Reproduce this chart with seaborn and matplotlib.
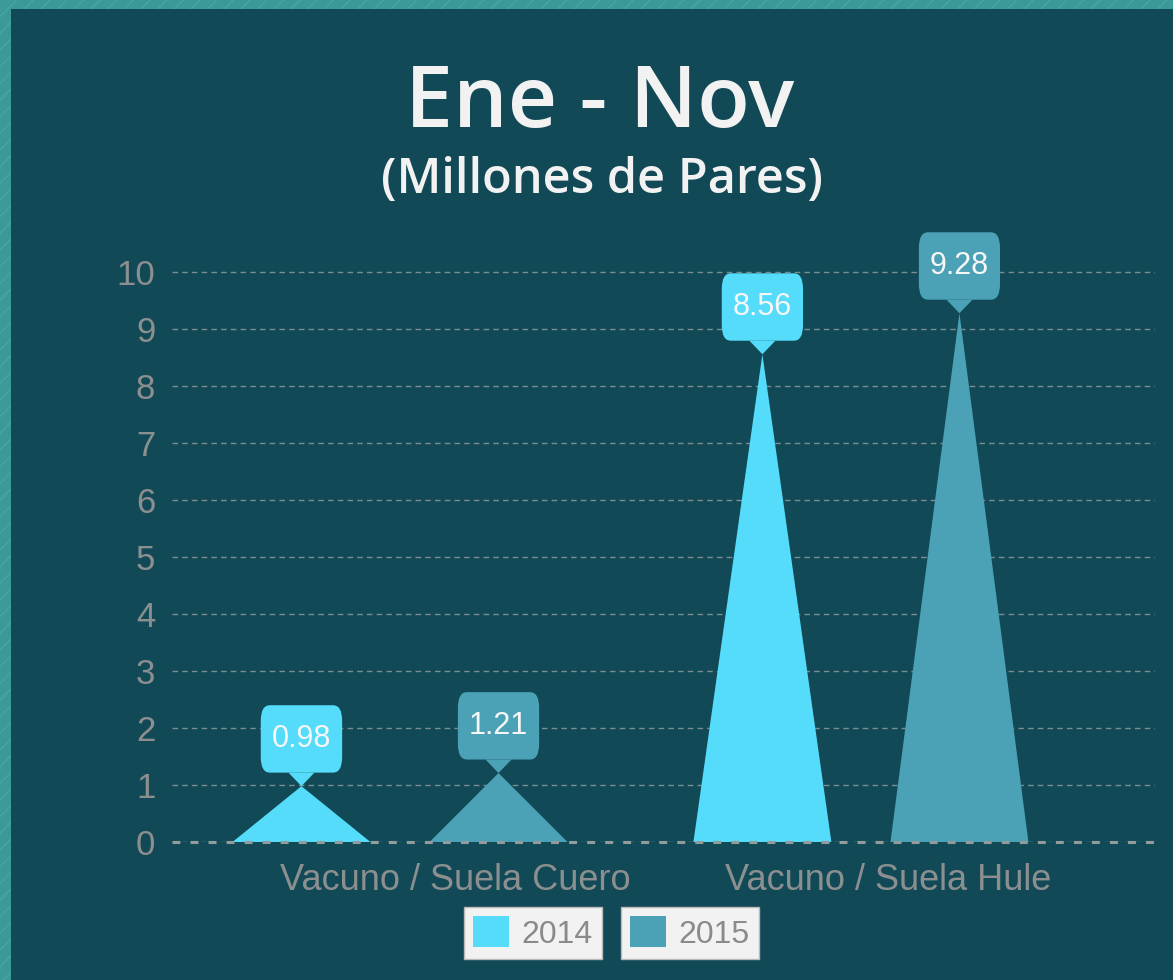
import matplotlib
matplotlib.use("Agg")
import matplotlib.pyplot as plt
import seaborn as sns
import pandas as pd
import numpy as np
from matplotlib.patches import Polygon, Rectangle, Patch

# data
categories = ["Vacuno / Suela Cuero", "Vacuno / Suela Hule"]
years = ["2014", "2015"]
values_2014 = [0.98, 8.56]
values_2015 = [1.21, 9.28]
colors = ["#55dcfb", "#4ba2b6"]

df = pd.DataFrame({
    "categoria": categories * 2,
    "anio": [years[0]] * len(categories) + [years[1]] * len(categories),
    "valor": values_2014 + values_2015,
})

sns.set_theme(style="dark")
plt.rcParams["font.family"] = ["Liberation Sans", "DejaVu Sans"]

bg = "#114a56"
gray = "#8c8f90"

fig = plt.figure(figsize=(11.73, 9.8), dpi=100)
fig.patch.set_facecolor("#3b9a97")
# striped frame + dark panel (kept under the axes)
fig.patches.append(Rectangle((0, 0), 1, 1, transform=fig.transFigure, facecolor="none",
                             edgecolor="#48a6a2", hatch="//", lw=0, zorder=-3))
fig.patches.append(Rectangle((11 / 1173, 0), 1, 1 - 9 / 980, transform=fig.transFigure,
                             facecolor=bg, lw=0, zorder=-2))

ax = fig.add_axes([172 / 1173, 1 - 842 / 980, 983 / 1173, (842 - 238) / 980])
ax.set_facecolor("none")

sns.barplot(data=df, x="categoria", y="valor", hue="anio", palette=colors,
            width=0.855, saturation=1, errorbar=None, ax=ax)
if ax.get_legend() is not None:
    ax.get_legend().remove()

# turn bars into triangles with speech-bubble labels
bars = [p for c in ax.containers for p in c]
for p in bars:
    x0, w, h = p.get_x(), p.get_width(), p.get_height()
    fc = p.get_facecolor()
    p.set_visible(False)
    cx = x0 + w / 2
    hw = 0.7 * w / 2
    ax.add_patch(Polygon([(cx - hw, 0), (cx + hw, 0), (cx, h)], closed=True,
                         facecolor=fc, edgecolor="none", zorder=3))
    ax.annotate(f"{h:.2f}", xy=(cx, h), xytext=(0, 34), textcoords="offset points",
                ha="center", va="center", fontsize=22, color="#f7f7f7", zorder=5,
                bbox=dict(boxstyle="round,pad=0.36,rounding_size=0.3", fc=fc, ec="none",
                          mutation_aspect=1.7),
                arrowprops=dict(arrowstyle="wedge,tail_width=0.85", fc=fc, ec="none",
                                shrinkA=0, shrinkB=0),
                annotation_clip=False)

ax.set_xlim(-0.4946, 1.638)
ax.set_ylim(0, 10.6)
ax.set_yticks(range(0, 11))
ax.set_yticklabels([str(v) for v in range(0, 11)], fontsize=25, color=gray)
label_shift = [0.12, 0.06]
ax.set_xticks(np.arange(len(categories)) + np.array(label_shift))
ax.set_xticklabels(categories, fontsize=26, color=gray)
ax.set_xlabel("")
ax.set_ylabel("")
ax.tick_params(axis="both", length=0)
ax.tick_params(axis="y", pad=12)
ax.tick_params(axis="x", pad=15)
for s in ax.spines.values():
    s.set_visible(False)
ax.yaxis.grid(True, color="#7b8d91", linestyle=(0, (4, 3)), lw=1)
ax.xaxis.grid(False)
ax.set_axisbelow(True)
ax.axhline(0, color="#929c9d", lw=2.2, ls=(0, (2.6, 3.3)), zorder=4, clip_on=False)

# titles
fig.text(0.511, 0.893, "Ene - Nov", fontsize=62, color="#f2f2f2", ha="center",
         va="center", weight="semibold", family=["Open Sans", "DejaVu Sans"])
fig.text(0.513, 0.816, "(Millones de Pares)", fontsize=35, color="#f2f2f2",
         ha="center", va="center", weight="semibold", family=["Open Sans", "DejaVu Sans"])

# legend: two separate boxes
anchors = [(533 / 1173, 1 - 933 / 980), (690 / 1173, 1 - 933 / 980)]
for yr, col, anc in zip(years, colors, anchors):
    fig.legend([Patch(facecolor=col, edgecolor="none")], [yr], loc="center",
               bbox_to_anchor=anc, frameon=True, fancybox=False, framealpha=1,
               facecolor="#f2f2f2", edgecolor="#b9b9b9", fontsize=23,
               labelcolor="#8a8a8a", handlelength=1.1, handleheight=1.1,
               handletextpad=0.4, borderpad=0.3, borderaxespad=0)

fig.savefig("out.png", dpi=100, facecolor=fig.get_facecolor())
